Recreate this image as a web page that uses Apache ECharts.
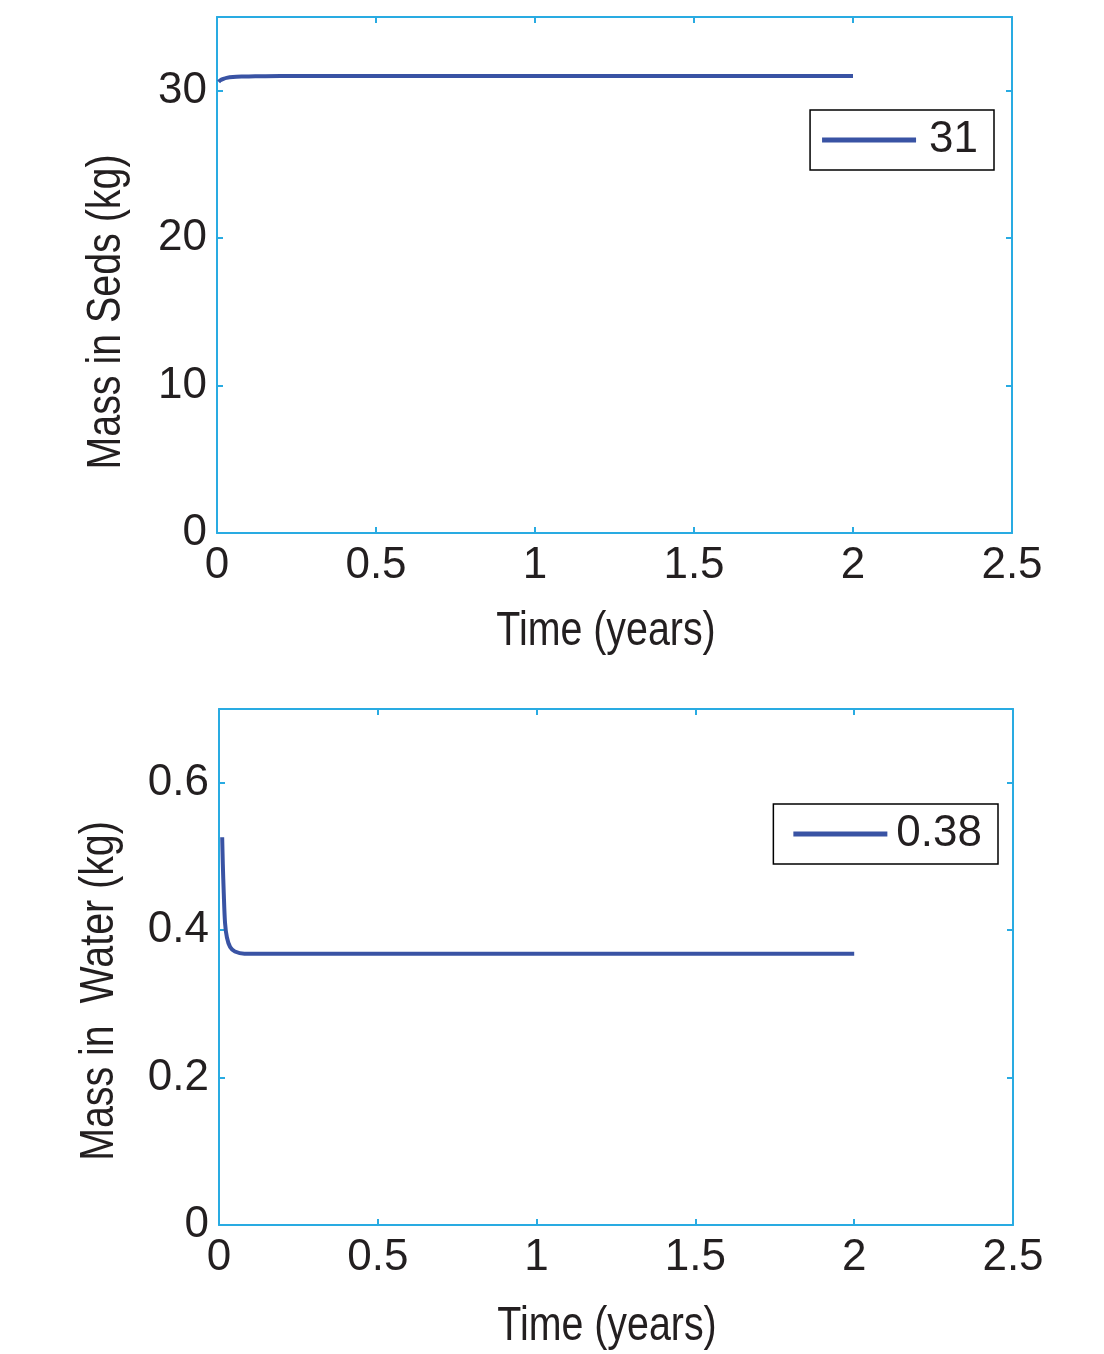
<!DOCTYPE html>
<html><head><meta charset="utf-8">
<script src="https://cdn.jsdelivr.net/npm/echarts@6/dist/echarts.min.js"></script>
<style>html,body{margin:0;padding:0;background:#fff}#c{width:1104px;height:1354px}</style>
</head><body><div id="c"></div>
<script>
const timeSeds = [0.005, 0.01, 0.02, 0.03, 0.05, 0.08, 0.12, 0.2, 2.0];
const massSeds = [30.6, 30.7, 30.8, 30.87, 30.93, 30.96, 30.98, 31.0, 31.0];
const timeWater = [0.01, 0.012, 0.015, 0.019, 0.025, 0.035, 0.05, 0.08, 0.2, 2.0];
const massWater = [0.526, 0.49, 0.45, 0.41, 0.39, 0.377, 0.371, 0.368, 0.368, 0.368];
const legendSeds = '31';
const legendWater = '0.38';
const xTitle = 'Time (years)';
const ySedsTitle = 'Mass in Seds (kg)';
const yWaterTitle = 'Mass in  Water (kg)';

const FONT = '"Liberation Sans", Arial, sans-serif';
const AX = '#29abe2';
const LINE = '#3953a4';
const TXT = '#231f20';
const TICK_FS = 44;

function xAx(grid, pos, show) {
  return {
    type: 'value', gridIndex: grid, position: pos, min: 0, max: 2.5, interval: 0.5,
    axisLine: {show: true, onZero: false, lineStyle: {color: AX, width: 2}},
    axisTick: {show: true, inside: true, length: 6, lineStyle: {color: AX, width: 2}},
    splitLine: {show: false},
    axisLabel: {show: show, color: TXT, fontFamily: FONT, fontSize: TICK_FS, margin: 11}
  };
}
function yAx(grid, pos, show, max, interval) {
  return {
    type: 'value', gridIndex: grid, position: pos, min: 0, max: max, interval: interval,
    axisLine: {show: true, onZero: false, lineStyle: {color: AX, width: 2}},
    axisTick: {show: true, inside: true, length: 6, lineStyle: {color: AX, width: 2}},
    splitLine: {show: false},
    axisLabel: {show: show, color: TXT, fontFamily: FONT, fontSize: TICK_FS, margin: 10,
      formatter: v => (Math.abs(v - max) < 1e-9 ? '' : String(Math.round(v * 1000) / 1000))}
  };
}
function title(text, x, y, rot) {
  return {type: 'text', x: x, y: y, rotation: rot, scaleX: 0.82,
    style: {text: text, fill: TXT, font: '48px ' + FONT, textAlign: 'center', textVerticalAlign: 'middle'}};
}
function legend(name, right, top, padL, gap) {
  return {data: [name], right: right, top: top, orient: 'vertical', icon: 'rect',
    borderColor: '#000', borderWidth: 1.5, borderRadius: 0, padding: [6, 16, 6, padL],
    itemWidth: 94, itemHeight: 5,
    textStyle: {color: TXT, fontFamily: FONT, fontSize: TICK_FS, lineHeight: 48, padding: [0, 0, 0, gap]}};
}

const chart = echarts.init(document.getElementById('c'));
chart.setOption({
  backgroundColor: '#fff',
  animation: false,
  grid: [
    {left: 217, top: 17, width: 795, height: 516},
    {left: 219, top: 709, width: 794, height: 516}
  ],
  xAxis: [xAx(0, 'bottom', true), xAx(0, 'top', false), xAx(1, 'bottom', true), xAx(1, 'top', false)],
  yAxis: [yAx(0, 'left', true, 35, 10), yAx(0, 'right', false, 35, 10),
          yAx(1, 'left', true, 0.7, 0.2), yAx(1, 'right', false, 0.7, 0.2)],
  legend: [legend(legendSeds, 110, 110, 12, 8), legend(legendWater, 106, 804, 20, 4)],
  graphic: [
    title(xTitle, 606, 632, 0),
    title(xTitle, 607, 1327, 0),
    title(ySedsTitle, 107, 312, Math.PI / 2),
    title(yWaterTitle, 100, 991, Math.PI / 2)
  ],
  series: [
    {name: legendSeds, type: 'line', xAxisIndex: 0, yAxisIndex: 0, symbol: 'none', smooth: 0.3,
     lineStyle: {color: LINE, width: 4}, itemStyle: {color: LINE},
     data: timeSeds.map((t, i) => [t, massSeds[i]])},
    {name: legendWater, type: 'line', xAxisIndex: 2, yAxisIndex: 2, symbol: 'none', smooth: 0.3,
     lineStyle: {color: LINE, width: 4}, itemStyle: {color: LINE},
     data: timeWater.map((t, i) => [t, massWater[i]])}
  ]
});
</script></body></html>
